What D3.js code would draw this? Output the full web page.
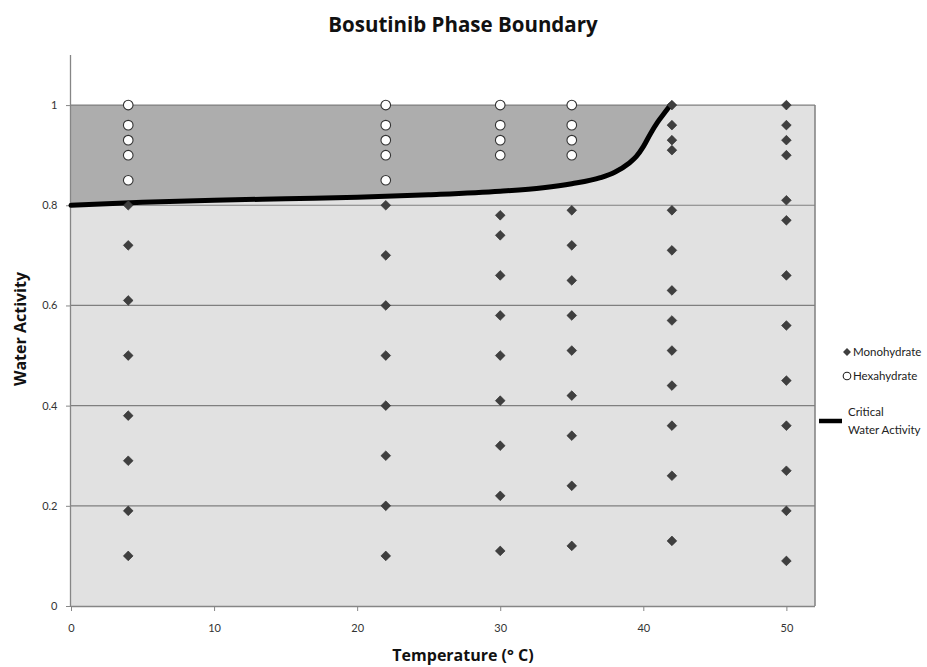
<!DOCTYPE html>
<html>
<head>
<meta charset="utf-8">
<script src="https://cdn.jsdelivr.net/npm/d3@7/dist/d3.min.js"></script>
<style>
html,body{margin:0;padding:0;background:#fff;}
svg text{font-family:Lato,"Open Sans","Liberation Sans",sans-serif;}
svg text.big{font-family:"Open Sans",Lato,sans-serif;}
</style>
</head>
<body>
<svg id="chart" width="927" height="667"></svg>
<script>
// ---- data ----
const temperatures = [4, 22, 30, 35, 42, 50];
const monohydrate = [
  [0.80, 0.72, 0.61, 0.50, 0.38, 0.29, 0.19, 0.10],
  [0.80, 0.70, 0.60, 0.50, 0.40, 0.30, 0.20, 0.10],
  [0.78, 0.74, 0.66, 0.58, 0.50, 0.41, 0.32, 0.22, 0.11],
  [0.79, 0.72, 0.65, 0.58, 0.51, 0.42, 0.34, 0.24, 0.12],
  [1.00, 0.96, 0.93, 0.91, 0.79, 0.71, 0.63, 0.57, 0.51, 0.44, 0.36, 0.26, 0.13],
  [1.00, 0.96, 0.93, 0.90, 0.81, 0.77, 0.66, 0.56, 0.45, 0.36, 0.27, 0.19, 0.09]
];
const hexahydrate = [
  [1.00, 0.96, 0.93, 0.90, 0.85],
  [1.00, 0.96, 0.93, 0.90, 0.85],
  [1.00, 0.96, 0.93, 0.90],
  [1.00, 0.96, 0.93, 0.90],
  [],
  []
];
const criticalT  = [0, 5, 10, 15, 20, 25, 30, 33, 35, 37, 38, 39, 39.5, 40, 40.5, 41, 41.5, 41.9];
const criticalAw = [0.800, 0.806, 0.810, 0.813, 0.816, 0.821, 0.828, 0.835, 0.843, 0.855, 0.866, 0.884, 0.897, 0.917, 0.943, 0.966, 0.985, 1.0];
const xTicks = [0, 10, 20, 30, 40, 50];
const yTicks = [0, 0.2, 0.4, 0.6, 0.8, 1];
const xDomain = [0, 52];
const yDomain = [0, 1.1];
const regionTop = 1.0;

// ---- layout ----
const svg = d3.select("#chart");
const L = 71, R = 815, T = 55, B = 606;
const x = d3.scaleLinear().domain(xDomain).range([L, R]);
const y = d3.scaleLinear().domain(yDomain).range([B, T]);

// light region (0..1)
const bgArea = d3.area().x(d => x(d)).y0(y(0)).y1(y(regionTop));
svg.append("path").datum(xDomain).attr("d", bgArea).attr("fill", "#e1e1e1");

// dark region (above critical curve up to 1)
const crit = criticalT.map((t, i) => ({t, a: criticalAw[i]}));
const darkArea = d3.area().x(d => x(d.t)).y0(d => y(d.a)).y1(y(regionTop)).curve(d3.curveMonotoneX);
svg.append("path").datum(crit).attr("d", darkArea).attr("fill", "#adadad");

// gridlines
svg.append("g").selectAll("line").data(yTicks.filter(v => v > 0)).join("line")
  .attr("x1", x(0)).attr("x2", x(xDomain[1]))
  .attr("y1", d => y(d)).attr("y2", d => y(d))
  .attr("stroke", "#7f7f7f").attr("stroke-width", 1.2);
// right border of plot region
svg.append("line").attr("x1", x(xDomain[1])).attr("x2", x(xDomain[1]))
  .attr("y1", y(regionTop)).attr("y2", y(0)).attr("stroke", "#7f7f7f").attr("stroke-width", 1.5);

// axes
const xAxis = d3.axisBottom(x).tickValues(xTicks).tickSize(5).tickFormat(d3.format("d"));
const gx = svg.append("g").attr("transform", `translate(0,${B})`).call(xAxis);
gx.select(".domain").attr("stroke", "#868686").attr("stroke-width", 1.3).attr("d", `M${L},0.5H${R}`);
gx.selectAll(".tick line").attr("stroke", "#868686");
gx.selectAll(".tick text").attr("font-size", 11).attr("fill", "#333").attr("dy", "1.6em");

const yAxis = d3.axisLeft(y).tickValues(yTicks).tickSize(5).tickFormat(d => d === 0 || d === 1 ? d3.format("d")(d) : d3.format(".1f")(d));
const gy = svg.append("g").attr("transform", `translate(${L},0)`).call(yAxis);
gy.select(".domain").attr("stroke", "#868686").attr("stroke-width", 1.3).attr("d", `M-0.5,${T}V${B}`);
gy.selectAll(".tick line").attr("stroke", "#868686");
gy.selectAll(".tick text").attr("font-size", 11).attr("fill", "#333").attr("dx", "-0.5em");

// critical curve
const line = d3.line().x(d => x(d.t)).y(d => y(d.a)).curve(d3.curveMonotoneX);
svg.append("path").datum(crit).attr("d", line).attr("fill", "none")
  .attr("stroke", "#000").attr("stroke-width", 5).attr("stroke-linecap", "round");

// points
const monoPts = [], hexPts = [];
temperatures.forEach((t, i) => {
  monohydrate[i].forEach(v => monoPts.push({t, v}));
  hexahydrate[i].forEach(v => hexPts.push({t, v}));
});
const diamond = d3.symbol().type(d3.symbolDiamond2).size(60);
svg.append("g").selectAll("path").data(monoPts).join("path")
  .attr("d", diamond)
  .attr("transform", d => `translate(${x(d.t)},${y(d.v)})`)
  .attr("fill", "#3f3f3f").attr("stroke", "#2a2a2a").attr("stroke-width", 0.6);
svg.append("g").selectAll("circle").data(hexPts).join("circle")
  .attr("cx", d => x(d.t)).attr("cy", d => y(d.v)).attr("r", 4.8)
  .attr("fill", "#fff").attr("stroke", "#333").attr("stroke-width", 1.1);

// title & axis labels
svg.append("text").attr("class", "big").attr("x", 463).attr("y", 32).attr("text-anchor", "middle")
  .attr("font-size", 20.5).attr("font-weight", "bold").attr("fill", "#111").text("Bosutinib Phase Boundary");
svg.append("text").attr("class", "big").attr("x", 463).attr("y", 661).attr("text-anchor", "middle")
  .attr("font-size", 16).attr("font-weight", "bold").attr("fill", "#111").text("Temperature (° C)");
svg.append("text").attr("class", "big").attr("transform", "translate(26,329) rotate(-90)").attr("text-anchor", "middle")
  .attr("font-size", 16).attr("font-weight", "bold").attr("fill", "#111").text("Water Activity");

// legend
const lg = svg.append("g");
lg.append("path").attr("d", d3.symbol().type(d3.symbolDiamond2).size(40))
  .attr("transform", "translate(847,352)").attr("fill", "#3f3f3f");
lg.append("text").attr("x", 853).attr("y", 356).attr("font-size", 11.5).attr("fill", "#222").text("Monohydrate");
lg.append("circle").attr("cx", 847).attr("cy", 376).attr("r", 3.8).attr("fill", "#fff").attr("stroke", "#222").attr("stroke-width", 1.1);
lg.append("text").attr("x", 853).attr("y", 380).attr("font-size", 11.5).attr("fill", "#222").text("Hexahydrate");
lg.append("line").attr("x1", 819).attr("x2", 842).attr("y1", 421).attr("y2", 421).attr("stroke", "#000").attr("stroke-width", 4.5);
lg.append("text").attr("x", 848).attr("y", 416).attr("font-size", 11.5).attr("fill", "#222").text("Critical");
lg.append("text").attr("x", 848).attr("y", 434).attr("font-size", 11.5).attr("fill", "#222").text("Water Activity");
</script>
</body>
</html>
